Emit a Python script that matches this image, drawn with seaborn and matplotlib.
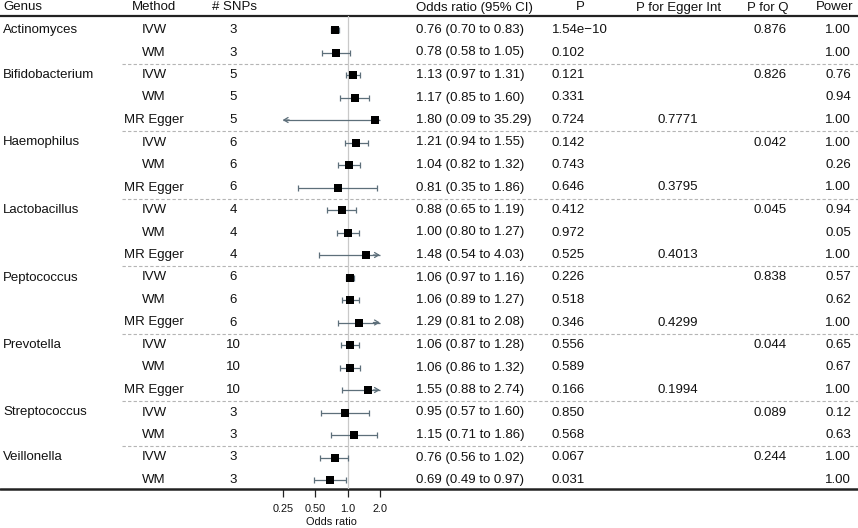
import matplotlib
matplotlib.use("Agg")
import matplotlib.pyplot as plt
import seaborn as sns
import numpy as np
import pandas as pd

genus = ["Actinomyces", "Bifidobacterium", "Haemophilus", "Lactobacillus",
         "Peptococcus", "Prevotella", "Streptococcus", "Veillonella"]
methods_per_genus = [["IVW", "WM"],
                     ["IVW", "WM", "MR Egger"],
                     ["IVW", "WM", "MR Egger"],
                     ["IVW", "WM", "MR Egger"],
                     ["IVW", "WM", "MR Egger"],
                     ["IVW", "WM", "MR Egger"],
                     ["IVW", "WM"],
                     ["IVW", "WM"]]
snps = [3, 3, 5, 5, 5, 6, 6, 6, 4, 4, 4, 6, 6, 6, 10, 10, 10, 3, 3, 3, 3]
odds = [0.76, 0.78, 1.13, 1.17, 1.80, 1.21, 1.04, 0.81, 0.88, 1.00, 1.48,
        1.06, 1.06, 1.29, 1.06, 1.06, 1.55, 0.95, 1.15, 0.76, 0.69]
ci_lo = [0.70, 0.58, 0.97, 0.85, 0.09, 0.94, 0.82, 0.35, 0.65, 0.80, 0.54,
         0.97, 0.89, 0.81, 0.87, 0.86, 0.88, 0.57, 0.71, 0.56, 0.49]
ci_hi = [0.83, 1.05, 1.31, 1.60, 35.29, 1.55, 1.32, 1.86, 1.19, 1.27, 4.03,
         1.16, 1.27, 2.08, 1.28, 1.32, 2.74, 1.60, 1.86, 1.02, 0.97]
p_val = ["1.54e\u221210", "0.102", "0.121", "0.331", "0.724", "0.142", "0.743",
         "0.646", "0.412", "0.972", "0.525", "0.226", "0.518", "0.346", "0.556",
         "0.589", "0.166", "0.850", "0.568", "0.067", "0.031"]
p_egger = {4: "0.7771", 7: "0.3795", 10: "0.4013", 13: "0.4299", 16: "0.1994"}
p_q = ["0.876", "0.826", "0.042", "0.045", "0.838", "0.044", "0.089", "0.244"]
power = ["1.00", "1.00", "0.76", "0.94", "1.00", "1.00", "0.26", "1.00", "0.94",
         "0.05", "1.00", "0.57", "0.62", "1.00", "0.65", "0.67", "1.00", "0.12",
         "0.63", "1.00", "1.00"]
x_ticks = [0.25, 0.5, 1.0, 2.0]
x_ticklabels = ["0.25", "0.50", "1.0", "2.0"]
clip_lo, clip_hi = 0.25, 2.0

rows = []
for g, ms in zip(genus, methods_per_genus):
    for k, m in enumerate(ms):
        rows.append({"genus": g if k == 0 else "", "method": m, "first": k == 0})
df = pd.DataFrame(rows)
df["snps"] = snps
df["or"] = odds
df["lo"] = ci_lo
df["hi"] = ci_hi
df["p"] = p_val
df["power"] = power
df["egger"] = [p_egger.get(i, "") for i in range(len(df))]
qs = iter(p_q)
df["q"] = [next(qs) if f else "" for f in df["first"]]

W, H = 858, 528
TOP, STEP = 30, 22.5
df["y"] = TOP + STEP * np.arange(len(df))
HEAD_Y, LINE1, LINE2 = 7.5, 16, 489

sns.set_style("white")
plt.rcParams["font.family"] = ["Liberation Sans", "DejaVu Sans"]
txt = "#111111"
fs = 9.5
ci_col = "#5d6f7a"

fig = plt.figure(figsize=(W / 100, H / 100), dpi=100)
ax = fig.add_axes([0, 0, 1, 1])
ax.set_xlim(0, W)
ax.set_ylim(H, 0)
ax.axis("off")

# header
heads = [("Genus", 3, "left"), ("Method", 154, "center"), ("# SNPs", 234, "center"),
         ("Odds ratio (95% CI)", 416, "left"), ("P", 580, "center"),
         ("P for Egger Int", 679, "center"), ("P for Q", 768, "center"),
         ("Power", 835, "center")]
for t, x, ha in heads:
    ax.text(x, HEAD_Y, t, ha=ha, va="center", fontsize=fs, color=txt)

ax.plot([0, W], [LINE1, LINE1], color="#222222", lw=1.6)
ax.plot([0, W], [LINE2, LINE2], color="#222222", lw=1.8)

# group separators
for i, r in df.iterrows():
    if r["first"] and i > 0:
        ysep = r["y"] - STEP / 2
        ax.plot([122, W], [ysep, ysep], color="#b5b5b5", lw=0.8, ls=(0, (3, 2)))

for i, r in df.iterrows():
    y = r["y"]
    ax.text(3, y, r["genus"], ha="left", va="center", fontsize=fs, color=txt)
    ax.text(154, y, r["method"], ha="center", va="center", fontsize=fs, color=txt)
    ax.text(233, y, str(r["snps"]), ha="center", va="center", fontsize=fs, color=txt)
    ax.text(416, y, f"{r['or']:.2f} ({r['lo']:.2f} to {r['hi']:.2f})",
            ha="left", va="center", fontsize=fs, color=txt)
    ax.text(552, y, r["p"], ha="left", va="center", fontsize=fs, color=txt)
    ax.text(678, y, r["egger"], ha="center", va="center", fontsize=fs, color=txt)
    ax.text(770, y, r["q"], ha="center", va="center", fontsize=fs, color=txt)
    ax.text(851, y, r["power"], ha="right", va="center", fontsize=fs, color=txt)

# forest panel
x0, x1, xone, oct_px = 262, 400, 347.5, 32.4
fx = fig.add_axes([x0 / W, 1 - LINE2 / H, (x1 - x0) / W, (LINE2 - LINE1) / H])
fx.patch.set_alpha(0)
fx.set_xscale("log", base=2)
fx.set_xlim(2 ** ((x0 - xone) / oct_px), 2 ** ((x1 - xone) / oct_px))
fx.set_ylim(LINE2, LINE1)
fx.axvline(1.0, color="#c9c9c9", lw=0.9, zorder=0)

lo_c = df["lo"].clip(lower=clip_lo)
hi_c = df["hi"].clip(upper=clip_hi)
fx.hlines(df["y"], lo_c, hi_c, color=ci_col, lw=0.9, zorder=1)
in_lo = df["lo"] >= clip_lo
in_hi = df["hi"] <= clip_hi
cap = 3
fx.vlines(df["lo"][in_lo], df["y"][in_lo] - cap, df["y"][in_lo] + cap, color=ci_col, lw=0.9)
fx.vlines(df["hi"][in_hi], df["y"][in_hi] - cap, df["y"][in_hi] + cap, color=ci_col, lw=0.9)
for i, r in df.iterrows():
    if r["lo"] < clip_lo:
        fx.annotate("", xy=(clip_lo, r["y"]), xytext=(clip_lo * 1.15, r["y"]),
                    arrowprops=dict(arrowstyle="->, head_length=0.5, head_width=0.3",
                                    color=ci_col, lw=0.9,
                                    shrinkA=0, shrinkB=0, mutation_scale=6))
    if r["hi"] > clip_hi:
        fx.annotate("", xy=(clip_hi, r["y"]), xytext=(clip_hi / 1.15, r["y"]),
                    arrowprops=dict(arrowstyle="->, head_length=0.5, head_width=0.3",
                                    color=ci_col, lw=0.9,
                                    shrinkA=0, shrinkB=0, mutation_scale=6))

sns.scatterplot(data=df, x="or", y="y", marker="s", s=26, color="black",
                edgecolor="black", linewidth=0, ax=fx, zorder=3, legend=False)

for s in fx.spines.values():
    s.set_visible(False)
fx.set_yticks([])
fx.set_ylabel("")
fx.set_xticks(x_ticks)
fx.set_xticklabels(x_ticklabels)
fx.minorticks_off()
fx.tick_params(axis="x", direction="out", length=6, width=0.9, color="#222222",
               labelsize=7.8, labelcolor=txt, pad=5, bottom=True)
fx.set_xlabel("Odds ratio", fontsize=7.9, color=txt, labelpad=2)

fig.savefig("out.png", dpi=100)
